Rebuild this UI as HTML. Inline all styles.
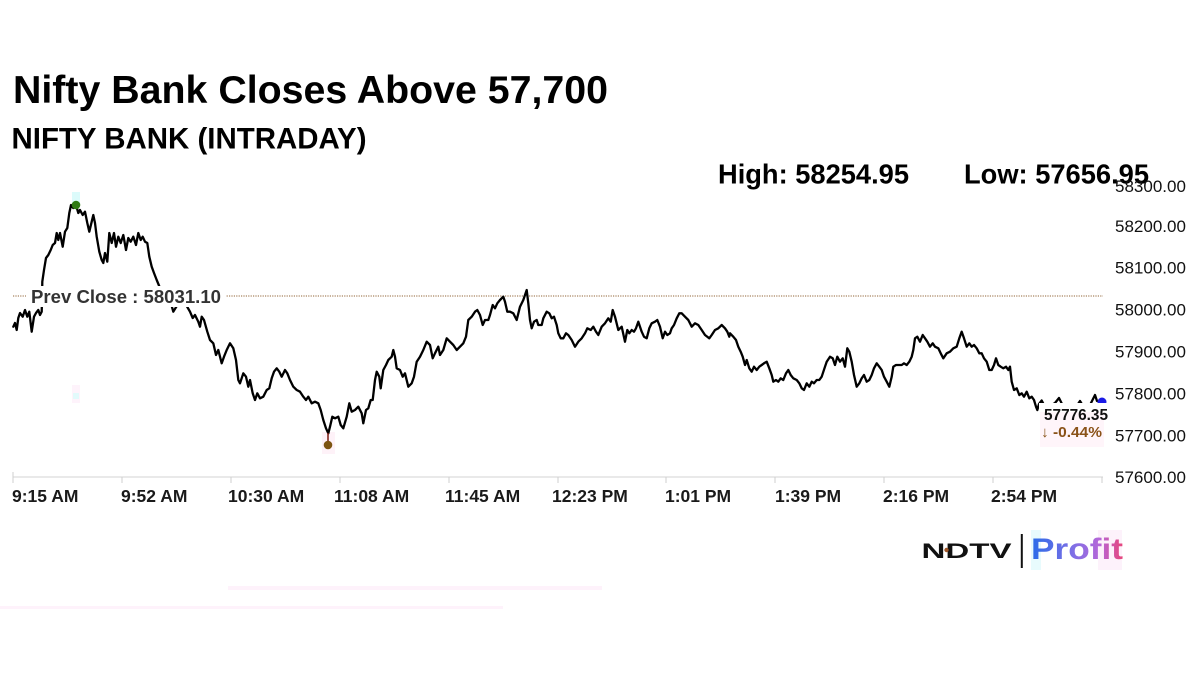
<!DOCTYPE html>
<html>
<head>
<meta charset="utf-8">
<style>
  html,body{margin:0;padding:0;background:#fff;}
  body{width:1200px;height:675px;overflow:hidden;}
  svg{display:block;}
</style>
</head>
<body>
<svg width="1200" height="675" viewBox="0 0 1200 675" xmlns="http://www.w3.org/2000/svg">
  <defs>
    <linearGradient id="pg" x1="1031" y1="0" x2="1123" y2="0" gradientUnits="userSpaceOnUse">
      <stop offset="0" stop-color="#2a6ce8"/>
      <stop offset="0.45" stop-color="#7d6fe6"/>
      <stop offset="0.75" stop-color="#b667d8"/>
      <stop offset="1" stop-color="#e8457a"/>
    </linearGradient>
  </defs>
  <rect width="1200" height="675" fill="#fff"/>

  <!-- Titles -->
  <text x="13" y="103" font-family="'Liberation Sans', sans-serif" font-weight="bold" font-size="39" fill="#000" textLength="595" lengthAdjust="spacingAndGlyphs">Nifty Bank Closes Above 57,700</text>
  <text x="11.5" y="148.5" font-family="'Liberation Sans', sans-serif" font-weight="bold" font-size="30" fill="#000" textLength="355" lengthAdjust="spacingAndGlyphs">NIFTY BANK (INTRADAY)</text>

  <!-- High / Low -->
  <text x="718" y="183.5" font-family="'Liberation Sans', sans-serif" font-weight="bold" font-size="28" fill="#000" textLength="191" lengthAdjust="spacingAndGlyphs">High: 58254.95</text>
  <text x="964" y="183.5" font-family="'Liberation Sans', sans-serif" font-weight="bold" font-size="28" fill="#000" textLength="185" lengthAdjust="spacingAndGlyphs">Low: 57656.95</text>

  <!-- Y axis labels -->
  <g font-family="'Liberation Sans', sans-serif" font-size="17" fill="#111">
    <text x="1115" y="192">58300.00</text>
    <text x="1115" y="231.8">58200.00</text>
    <text x="1115" y="273.7">58100.00</text>
    <text x="1115" y="315.6">58000.00</text>
    <text x="1115" y="357.5">57900.00</text>
    <text x="1115" y="399.4">57800.00</text>
    <text x="1115" y="441.3">57700.00</text>
    <text x="1115" y="483.2">57600.00</text>
  </g>

  <!-- X axis -->
  <line x1="13" y1="477" x2="1103" y2="477" stroke="#dcdcdc" stroke-width="1.2"/>
  <g stroke="#cfcfcf" stroke-width="1">
    <line x1="13" y1="472" x2="13" y2="483"/>
    <line x1="122" y1="477" x2="122" y2="483"/>
    <line x1="231" y1="477" x2="231" y2="483"/>
    <line x1="340" y1="477" x2="340" y2="483"/>
    <line x1="449" y1="477" x2="449" y2="483"/>
    <line x1="558" y1="477" x2="558" y2="483"/>
    <line x1="666" y1="477" x2="666" y2="483"/>
    <line x1="775" y1="477" x2="775" y2="483"/>
    <line x1="884" y1="477" x2="884" y2="483"/>
    <line x1="993" y1="477" x2="993" y2="483"/>
    <line x1="1102" y1="477" x2="1102" y2="483"/>
  </g>
  <g font-family="'Liberation Sans', sans-serif" font-weight="bold" font-size="17.5" fill="#1a1a1a">
    <text x="12" y="502">9:15 AM</text>
    <text x="121" y="502">9:52 AM</text>
    <text x="228" y="502">10:30 AM</text>
    <text x="334" y="502">11:08 AM</text>
    <text x="445" y="502">11:45 AM</text>
    <text x="552" y="502">12:23 PM</text>
    <text x="665" y="502">1:01 PM</text>
    <text x="775" y="502">1:39 PM</text>
    <text x="883" y="502">2:16 PM</text>
    <text x="991" y="502">2:54 PM</text>
  </g>

  <!-- faint artifacts -->
  <rect x="72" y="192" width="8" height="11" fill="#dcfbfb"/>
  <rect x="72" y="385" width="8" height="18" fill="#fef3fb"/>
  <rect x="73" y="393" width="6" height="6" fill="#e2fafb"/>
  <rect x="322" y="432" width="13" height="22" fill="#fef2f8"/>
  <rect x="228" y="586" width="374" height="4" fill="#fef2fb"/>
  <rect x="0" y="606" width="503" height="3" fill="#fef2fb"/>

  <!-- Prev close line -->
  <line x1="13" y1="296" x2="1103" y2="296" stroke="#a8835f" stroke-width="1.3" stroke-dasharray="1.2,1.2"/>

  <!-- Price line -->
  <polyline fill="none" stroke="#000" stroke-width="2.3" stroke-linejoin="round" stroke-linecap="round" points="
13.3,326.7 15,323 16.7,330 18.3,318 20,313 22.7,316.7 25,310 27.3,316.7 29.3,311.7 31.7,331.7 34,316.7 36,313 38.3,310 40,315 41.7,311.7 42,300 42.3,281.7 44,270 46,258 48.3,255 50.7,250 52.7,245 55,243 56.7,233 58.3,240 60,233 62.7,246.7 65,231.7 67.3,228 69.3,213 71,205 73.3,208 76,205 78.3,213 80,210 82.7,215 85,211.7 87.3,223 89.3,231.7 91.7,221.7 93.3,215 95,223 96.7,236.7 99.3,251.7 101.7,260 103.3,263 105,253 107.3,261.7 109.3,233 111.7,243 114,233 116,246.7 118.3,236.7 120.7,243 123.3,235 126,250 128.3,238 130.7,241.7 133.3,236.7 136,245 138.3,233 140.7,240 142.7,236.7 145,241.7 147.3,243 149.3,256.7 151.7,266.7 154,273 156.7,280 160,288 165,295 170,300 173.3,311.7 178,304 185,303 190,311.7 192.7,318 195,315 198.3,321.7 200,326.7 201.7,316.7 204,320 207.3,331.7 210,340 213.3,343.3 216,355 218.3,350 221.7,363.3 224,356.7 226.7,350 230,343.3 233.3,348.3 236,360 238.3,380 240,383.3 243.3,373.3 246,376.7 248.3,386.7 250,380 252.7,393.3 255,400 257.3,393.3 260,398.3 263.3,396.7 266.7,390 269.3,388.3 271.7,378.3 274,371.7 276.7,368.3 279.3,371.7 281.7,376.7 285,370 287.3,373.3 290,380 293.3,386.7 296.7,390 300,391.7 303.3,396.7 306,400 308.3,396.7 311.7,403.3 315,401.7 318.3,403.3 320.7,410 323.3,420 326,428.3 328.3,433.3 330,426.7 332.3,416.7 335,418.3 338.3,416.7 340.7,425 343.3,428.3 346.7,416.7 349.3,403.3 351.7,411.7 355,410 358.3,406.7 361.7,413.3 363.3,423.3 366,410 368.3,408.3 370.7,400 372.7,400 375,380 376.7,371.7 379.3,376.7 380.7,388.3 383.3,370 386,365 388.3,360 391.7,356.7 393.3,350 395,356.7 396.7,368.3 400,370 402.7,376.7 405,373.3 408.3,386.7 411.7,383.3 414,376.7 416.7,361.7 420,356.7 423.3,350 426.7,341.7 430,345 432.7,358.3 435,353.3 438.3,346.7 440,355 443.3,350 446.7,338.3 450,341.7 453.3,345 456.7,350 460,346.7 463.3,343.3 466,336.7 468.3,320 471.7,316.7 475,311.7 477.3,310 480,315 482.7,325 485,320 488.3,320 490,315 492.7,305 495,308.3 497.3,303.3 500,300 503.3,296.7 505,301.7 507.3,311.7 510,311.7 513.3,313.3 516.7,320 520,306.7 523.3,300 526.7,290 528.3,303.3 530,320 531.7,328.3 534,321.7 536.7,320 538.3,325 541.7,325 543.3,318.3 546.7,311.7 549.3,313.3 551.7,318.3 554,316.7 556.7,325 558.3,333.3 560.7,338.3 563.3,338.3 566,333.3 568.3,335 571.7,340 575,346.7 578.3,341.7 581.7,338.3 585,333.3 587.3,328.3 590.7,330 593.3,326.7 596,331.7 598.3,335 601.7,326.7 605,323.3 608.3,318.3 610.7,321.7 612.7,310 615,316.7 618.3,330 621.7,326.7 625,341.7 627.3,330 629.3,333.3 631.7,330 634,331.7 636,328.3 638.3,321.7 641.7,331.7 644,336.7 646.7,338.3 649.3,328.3 651.7,323.3 655,321.7 657.3,320 660,326.7 662.7,338.3 665,331.7 667.3,335 670,333.3 671.7,328.3 674,325 676.7,318.3 679.3,313.3 681.7,313.3 685,316.7 688.3,320 691.7,326.7 695,323.3 698.3,325 701.7,330 705,335 709.3,338.3 711.7,335 715,330 718.3,328.3 721.7,325 725,328.3 727.3,331.7 729.3,336.7 730,333.3 733.3,336.7 736,340 738.3,346.7 740.7,351.7 742.7,356.7 745,365 746.7,360 749.3,368.3 751.7,371.7 754,366.7 756.7,370 759.3,366.7 761.7,365 764,363.3 766.7,361.7 769.3,368.3 771.7,375 773.3,381.7 776,380 778.3,381.7 780.7,378.3 783.3,380 786,373.3 788.3,370 790.7,375 793.3,378.3 796.7,380 799.3,383.3 801.7,388.3 804,390 806.7,383.3 809.3,386.7 811.7,381.7 814,383.3 816.7,380 819.3,380 821.7,376.7 825,366.7 826.7,361.7 830,356.7 832.7,358.3 835,365 837.3,356.7 840,361.7 842.7,358.3 845,366.7 847.3,348.3 849.3,351.7 851.7,361.7 854,375 856.7,386.7 859.3,383.3 861.7,378.3 864,375 866.7,381.7 869.3,380 871.7,375 874,368.3 876.7,363.3 879.3,366.7 881.7,370 884,376.7 886.7,381.7 889.3,386.7 891.7,376.7 893.3,366.7 896,365 898.3,365 901.7,365 904,363.3 906.7,365 909.3,361.7 911.7,356.7 913.3,350 915,338.3 917.3,336.7 920,341.7 922.7,335 925,338.3 927.3,341.7 930,346.7 932.7,343.3 935,346.7 938.3,348.3 940.7,353.3 943.3,358.3 946.7,353.3 950,351.7 953.3,348.3 956.7,346.7 959.3,338.3 961.7,331.7 964,338.3 966.7,346.7 969.3,343.3 971.7,346.7 974,345 976.7,348.3 979.3,353.3 981.7,353.3 984,358.3 986.7,361.7 989.3,370 991.7,370 994,365 996,358.3 998.3,365 1000.7,366.7 1003.3,368.3 1006,366.7 1008.3,370 1010,366.7 1011.7,381.7 1014,390 1016.7,388.3 1019.3,395 1021.7,393.3 1024,396.7 1026.7,391.7 1029.3,398.3 1031.7,396.7 1034,400 1036,406.7 1037.3,410 1039,404 1041.7,400.5 1044,405 1050,406 1055,403 1059,398 1062,404 1070,407 1078,404 1080,401 1083,406 1090,405 1093,399 1095,395 1097,401 1101.7,401.7"/>

  <!-- Prev close label -->
  <rect x="26" y="286" width="200" height="21" fill="#fff"/>
  <text x="31" y="303" font-family="'Liberation Sans', sans-serif" font-weight="bold" font-size="18" fill="#333" textLength="190" lengthAdjust="spacingAndGlyphs">Prev Close : 58031.10</text>

  <!-- High / Low markers -->
  <circle cx="76" cy="205" r="4.3" fill="#2f7a14"/>
  <line x1="328" y1="433" x2="328" y2="442" stroke="#7a1a10" stroke-width="1.5"/>
  <circle cx="328" cy="445" r="4.3" fill="#7d5512"/>

  <!-- Last value -->
  <circle cx="1102" cy="402" r="4.5" fill="#1a1ae6"/>
  <rect x="1039" y="403" width="68" height="44" fill="#fff"/>
  <rect x="1040" y="412" width="64" height="35" fill="#fff5fa"/>
  <text x="1044" y="420" font-family="'Liberation Sans', sans-serif" font-weight="bold" font-size="16" fill="#111" textLength="64" lengthAdjust="spacingAndGlyphs">57776.35</text>
  <text x="1041" y="437" font-family="'Liberation Sans', sans-serif" font-weight="bold" font-size="15" fill="#8a5218" textLength="61" lengthAdjust="spacingAndGlyphs">↓ -0.44%</text>

  <!-- Logo -->
  <text x="921.5" y="558" font-family="'Liberation Sans', sans-serif" font-weight="bold" font-size="21" fill="#111" textLength="90" lengthAdjust="spacingAndGlyphs">NDTV</text>
  <circle cx="946.5" cy="550" r="2.2" fill="#a0582a"/>
  <rect x="1020.8" y="534" width="2" height="34" fill="#111"/>
  <rect x="1031" y="530" width="10" height="40" fill="#e8fbfd"/>
  <rect x="1098" y="530" width="24" height="40" fill="#fdf2fb"/>
  <text x="1031" y="559" font-family="'Liberation Sans', sans-serif" font-weight="bold" font-size="30" fill="url(#pg)" textLength="92" lengthAdjust="spacingAndGlyphs">Profit</text>
</svg>
</body>
</html>
